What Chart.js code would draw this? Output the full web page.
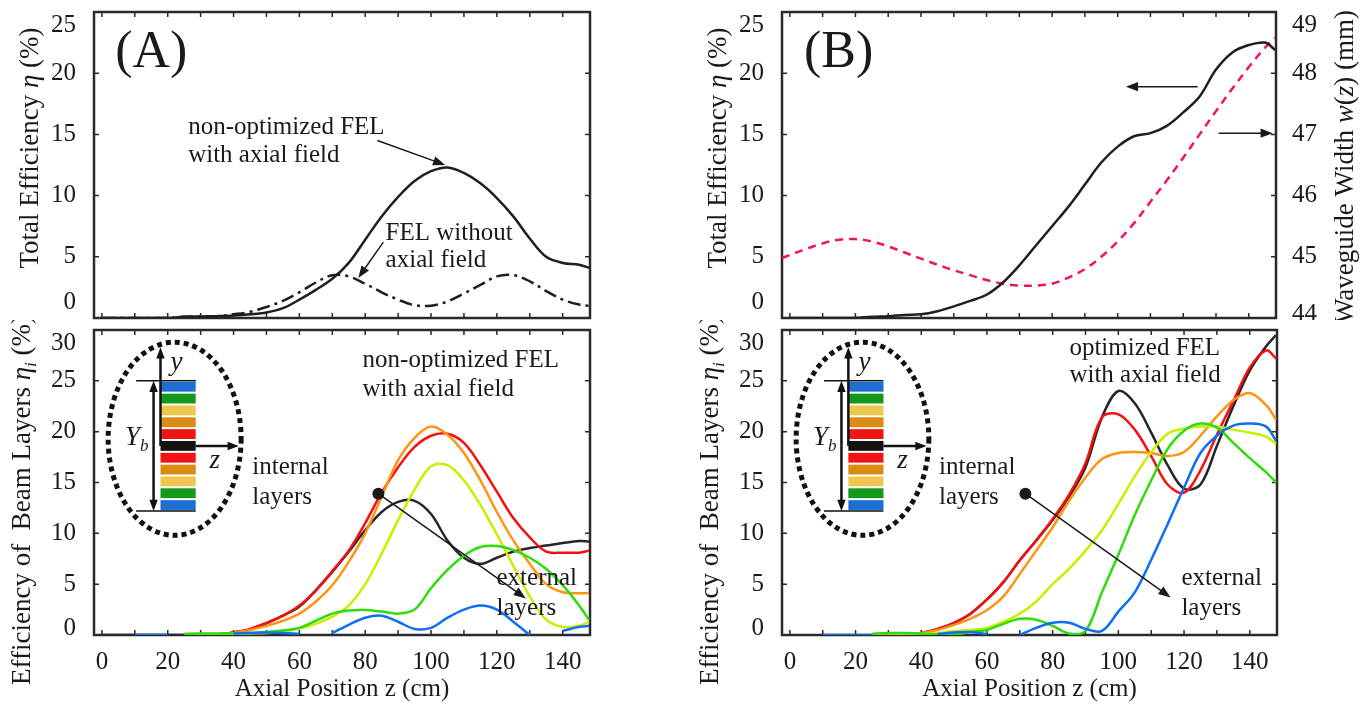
<!DOCTYPE html>
<html>
<head>
<meta charset="utf-8">
<script src="https://cdn.jsdelivr.net/npm/chart.js@4.4.1/dist/chart.umd.min.js"></script>
<style>
  body { margin: 0; background: #fff; width: 1370px; height: 706px; position: relative; overflow: hidden; }
  canvas { position: absolute; }
</style>
</head>
<body>
<canvas id="topA" width="640" height="320" style="left:0;top:0"></canvas>
<canvas id="botA" width="640" height="386" style="left:0;top:320px"></canvas>
<canvas id="topB" width="730" height="320" style="left:640px;top:0"></canvas>
<canvas id="botB" width="730" height="386" style="left:640px;top:320px"></canvas>
<script>
// axial position grid (cm)
const zA = [0, 5, 10, 15, 20, 25, 30, 35, 40, 45, 50, 55, 60, 65, 70, 75, 80, 85, 90, 95, 100, 105, 110, 115, 120, 125, 130, 135, 140, 145, 148];
const zW = [-2.4, 0, 5, 10, 15, 20, 25, 30, 35, 40, 45, 50, 55, 60, 65, 70, 75, 80, 85, 90, 95, 100, 105, 110, 115, 120, 125, 130, 135, 140, 145, 148];
const xTicks = [0, 20, 40, 60, 80, 100, 120, 140];
const xMinor = [0, 10, 20, 30, 40, 50, 60, 70, 80, 90, 100, 110, 120, 130, 140];
const etaTicks = [0, 5, 10, 15, 20, 25];
const layerTicks = [0, 5, 10, 15, 20, 25, 30];
const widthTicks = [44, 45, 46, 47, 48, 49];

// (A) total efficiency
const etaNonOpt = [0, 0, 0, 0, 0, 0.1, 0.12, 0.15, 0.2, 0.3, 0.45, 0.8, 1.5, 2.3, 3.2, 4.5, 6.4, 8.3, 9.9, 11.2, 12.0, 12.3, 11.85, 11.0, 9.8, 8.3, 6.5, 5.0, 4.5, 4.35, 4.1];
const etaNoAxial = [0, 0, 0, 0, 0, 0.1, 0.12, 0.15, 0.3, 0.5, 0.9, 1.4, 2.1, 2.9, 3.5, 3.4, 2.8, 2.1, 1.5, 1.05, 1.0, 1.35, 2.0, 2.7, 3.4, 3.5, 3.0, 2.2, 1.5, 1.1, 1.0];

// (B) total efficiency and waveguide width (mm)
const etaOpt = [0, 0, 0, 0, 0, 0.1, 0.15, 0.25, 0.3, 0.55, 0.95, 1.4, 1.9, 2.9, 4.3, 5.9, 7.5, 9.1, 10.9, 12.7, 14.0, 14.85, 15.1, 15.7, 16.8, 18.1, 20.3, 21.7, 22.3, 22.5, 21.9];
const widthW = [44.98, 45.03, 45.13, 45.22, 45.28, 45.29, 45.25, 45.17, 45.07, 44.97, 44.87, 44.78, 44.70, 44.62, 44.56, 44.53, 44.53, 44.56, 44.66, 44.80, 45.0, 45.25, 45.55, 45.9, 46.25, 46.62, 47.0, 47.38, 47.75, 48.1, 48.42, 48.58];

// (A) beam layers, centre -> edge
const aBlack = [0, 0, 0, 0, 0, 0, 0, 0.05, 0.25, 0.5, 1.15, 1.9, 2.8, 4.4, 6.2, 8.2, 10.3, 12.1, 13.1, 13.2, 11.9, 9.3, 7.6, 7.0, 7.6, 8.2, 8.55, 8.8, 9.05, 9.25, 9.2];
const aRed = [null, null, null, null, null, null, null, 0.05, 0.25, 0.6, 1.2, 1.9, 2.9, 4.4, 6.3, 8.3, 11.0, 14.0, 16.5, 18.5, 19.6, 19.8, 18.9, 16.7, 14.1, 11.5, 9.6, 8.2, 8.1, 8.1, 8.3];
const aOrange = [null, null, null, null, null, null, null, 0.05, 0.2, 0.5, 0.9, 1.4, 2.1, 3.3, 4.9, 7.2, 10.0, 13.6, 17.2, 19.4, 20.5, 19.7, 17.9, 15.2, 12.1, 9.3, 7.0, 5.0, 4.2, 4.1, 4.1];
const aYellow = [null, null, null, null, null, 0.1, 0.1, 0.1, 0.1, 0.15, 0.2, 0.3, 0.65, 1.1, 1.8, 2.9, 5.0, 8.0, 11.3, 14.3, 16.6, 16.7, 15.2, 12.8, 9.9, 6.8, 3.8, 1.5, 0.8, 0.9, 1.3];
const aGreen = [null, null, null, null, null, 0.1, 0.15, 0.15, 0.15, 0.2, 0.3, 0.45, 0.7, 1.4, 2.1, 2.4, 2.45, 2.3, 2.1, 2.5, 4.6, 6.4, 7.8, 8.65, 8.75, 8.35, 7.6, 6.5, 4.9, 2.9, 1.5];
const aBlue = [0, null, 0, 0, 0, null, null, null, 0.15, 0.2, 0.25, 0.2, 0.1, null, 0.2, 1.0, 1.7, 1.9, 1.3, 0.6, 0.7, 1.7, 2.5, 2.9, 2.5, 1.3, 0, null, 0.4, 0.8, 0.9];

// (B) beam layers
const bBlack = [null, null, null, null, null, null, 0, 0.05, 0.2, 0.6, 1.2, 2.1, 3.5, 5.2, 7.35, 9.3, 11.3, 13.6, 16.5, 21.4, 24.0, 22.8, 19.9, 16.7, 14.4, 14.8, 18.6, 22.5, 26.0, 28.4, 29.5];
const bRed = [null, null, null, null, null, null, 0, 0.05, 0.2, 0.6, 1.2, 2.1, 3.5, 5.2, 7.35, 9.3, 11.4, 13.8, 16.9, 21.4, 21.7, 20.2, 17.6, 14.8, 14.0, 16.2, 19.7, 23.0, 26.3, 28.0, 27.2];
const bOrange = [null, null, null, null, null, null, 0.05, 0.1, 0.2, 0.5, 1.0, 1.6, 2.45, 3.8, 6.0, 8.3, 10.6, 13.2, 15.5, 17.3, 17.9, 18.0, 17.9, 17.6, 18.0, 19.6, 21.5, 23.1, 23.8, 22.6, 21.2];
const bYellow = [null, null, null, null, null, 0.1, 0.15, 0.15, 0.15, 0.2, 0.4, 0.5, 0.7, 1.3, 2.1, 3.3, 5.0, 6.5, 8.3, 10.3, 12.9, 15.6, 18.0, 19.8, 20.3, 20.5, 20.5, 20.2, 19.9, 19.5, 18.8];
const bGreen = [null, null, null, null, null, 0.1, 0.2, 0.2, 0.15, 0.05, 0, 0.3, 0.5, 1.1, 1.6, 1.5, 0.9, 0.15, 0.4, 4.2, 7.9, 11.8, 15.2, 18.3, 20.1, 20.8, 20.4, 18.9, 17.4, 16.0, 15.0];
const bBlue = [0, null, 0, 0, 0, 0, null, null, null, 0.1, 0.25, 0.3, 0.1, null, 0, 0.7, 1.2, 1.2, 0.6, 0.4, 2.3, 4.2, 7.4, 10.9, 14.5, 17.9, 19.6, 20.6, 20.8, 20.5, 19.1];

const layerColors = ['#1e6fd2', '#149a1a', '#eec84e', '#d98b12', '#f01414', '#111111', '#f01414', '#d98b12', '#eec84e', '#149a1a', '#1e6fd2'];

const SERIF = '"Liberation Serif", "Times New Roman", serif';
const INK = '#1a1a1a';
Chart.defaults.font.family = SERIF;
Chart.defaults.color = INK;

const pts = (xs, ys) => xs.map((x, i) => ({ x: x, y: ys[i] }));

function arrow(ctx, x1, y1, x2, y2, head, lw) {
  const a = Math.atan2(y2 - y1, x2 - x1);
  ctx.lineWidth = lw;
  ctx.beginPath();
  ctx.moveTo(x1, y1);
  ctx.lineTo(x2 - Math.cos(a) * head * 0.7, y2 - Math.sin(a) * head * 0.7);
  ctx.stroke();
  ctx.beginPath();
  ctx.moveTo(x2, y2);
  ctx.lineTo(x2 - head * Math.cos(a - 0.36), y2 - head * Math.sin(a - 0.36));
  ctx.lineTo(x2 - head * Math.cos(a + 0.36), y2 - head * Math.sin(a + 0.36));
  ctx.closePath();
  ctx.fill();
}

// text with italic / subscript pieces, centred on (x, y)
function rich(ctx, parts, x, y, size, rot) {
  const fontFor = p => (p.i ? 'italic ' : '') + (p.sub ? Math.round(size * 0.62) : size) + 'px ' + SERIF;
  ctx.save();
  ctx.translate(x, y);
  ctx.rotate(rot);
  ctx.textBaseline = 'middle';
  ctx.textAlign = 'left';
  let w = 0;
  parts.forEach(p => { ctx.font = fontFor(p); w += ctx.measureText(p.t).width; });
  let cx = -w / 2;
  parts.forEach(p => {
    ctx.font = fontFor(p);
    ctx.fillText(p.t, cx, p.sub ? size * 0.32 : 0);
    cx += ctx.measureText(p.t).width;
  });
  ctx.restore();
}

function drawInset(ctx, xs, ys) {
  const px = v => xs.getPixelForValue(v);
  const py = v => ys.getPixelForValue(v);
  ctx.save();
  ctx.strokeStyle = '#111';
  ctx.fillStyle = '#111';
  ctx.setLineDash([5, 4]);
  ctx.lineWidth = 5;
  ctx.beginPath();
  ctx.ellipse(px(22.1), py(19.3), px(42.3) - px(22.1), py(9.8) - py(19.3), 0, 0, Math.PI * 2);
  ctx.stroke();
  ctx.setLineDash([]);

  // bracket lines for Yb
  ctx.lineWidth = 1.5;
  ctx.beginPath();
  ctx.moveTo(px(10.4), py(25)); ctx.lineTo(px(28.5), py(25));
  ctx.moveTo(px(10.4), py(12.2)); ctx.lineTo(px(28.5), py(12.2));
  ctx.stroke();

  const h = (25 - 12.2) / layerColors.length;
  layerColors.forEach((c, i) => {
    const t = py(25 - i * h), b = py(25 - (i + 1) * h);
    ctx.fillStyle = c;
    ctx.fillRect(px(17.8), t + 1, px(28.5) - px(17.8), b - t - 2);
  });

  ctx.fillStyle = '#111';
  const mid = 25 - 5.5 * h;
  arrow(ctx, px(17.8), py(mid), px(17.8), py(28.3), 12, 2.5);
  arrow(ctx, px(28.5), py(mid), px(41.6), py(mid), 12, 2.5);
  arrow(ctx, px(15.7), py(18.6), px(15.7), py(25), 12, 2.5);
  arrow(ctx, px(15.7), py(18.6), px(15.7), py(12.2), 12, 2.5);

  ctx.fillStyle = INK;
  rich(ctx, [{ t: 'y', i: true }], px(22.7), py(26.8), 27, 0);
  rich(ctx, [{ t: 'z', i: true }], px(34.3), py(17.1), 27, 0);
  rich(ctx, [{ t: 'Y', i: true }, { t: 'b', i: true, sub: true }], px(10.6), py(19.4), 27, 0);
  ctx.restore();
}

function makeDeco(cfg) {
  return {
    id: 'deco',
    beforeDatasetsDraw(chart) {
      const { ctx, chartArea: a, scales } = chart;
      ctx.save();
      ctx.strokeStyle = '#2a2a2a';
      ctx.lineWidth = 1.5;
      ctx.beginPath();
      xMinor.forEach(v => {
        const p = scales.x.getPixelForValue(v);
        ctx.moveTo(p, a.bottom); ctx.lineTo(p, a.bottom - 5);
        ctx.moveTo(p, a.top); ctx.lineTo(p, a.top + 5);
      });
      cfg.yTicks.forEach(v => {
        const p = scales.y.getPixelForValue(v);
        ctx.moveTo(a.left, p); ctx.lineTo(a.left + 5, p);
        ctx.moveTo(a.right, p); ctx.lineTo(a.right - 5, p);
      });
      ctx.stroke();
      ctx.lineWidth = 2.5;
      ctx.strokeRect(a.left, a.top, a.right - a.left, a.bottom - a.top);

      // tick labels; the end labels sit a little inside the frame, as in the source figure
      ctx.fillStyle = INK;
      ctx.font = '25px ' + SERIF;
      ctx.textBaseline = 'middle';
      ctx.textAlign = 'right';
      cfg.yTicks.forEach((v, i) => {
        let p = scales.y.getPixelForValue(v);
        if (i === 0) p += cfg.nudge[0];
        if (i === cfg.yTicks.length - 1) p += cfg.nudge[1];
        ctx.fillText(String(v), a.left - 18, p);
      });
      if (scales.y1) {
        ctx.textAlign = 'left';
        widthTicks.forEach((v, i) => {
          let p = scales.y1.getPixelForValue(v);
          if (i === 0) p -= 4;
          if (i === widthTicks.length - 1) p += 13;
          ctx.fillText(String(v), a.right + 16, p);
        });
      }
      ctx.restore();
    },
    afterDatasetsDraw(chart) {
      const { ctx, scales } = chart;
      const px = v => scales.x.getPixelForValue(v);
      const py = v => scales.y.getPixelForValue(v);
      ctx.save();
      ctx.fillStyle = INK;
      ctx.strokeStyle = INK;
      ctx.textBaseline = 'middle';
      (cfg.texts || []).forEach(t => {
        ctx.font = (t.size || 25) + 'px ' + SERIF;
        ctx.textAlign = t.align || 'left';
        ctx.fillText(t.text, px(t.x), py(t.y));
      });
      (cfg.arrows || []).forEach(r => arrow(ctx, px(r[0]), py(r[1]), px(r[2]), py(r[3]), 13, 1.5));
      (cfg.dots || []).forEach(d => {
        ctx.beginPath();
        ctx.arc(px(d[0]), py(d[1]), 6, 0, Math.PI * 2);
        ctx.fill();
      });
      if (cfg.inset) drawInset(ctx, scales.x, scales.y);
      (cfg.titles || []).forEach(t => rich(ctx, t.parts, t.x, t.y, 27, -Math.PI / 2));
      ctx.restore();
    }
  };
}

function noPad(s) {
  s.paddingTop = 0;
  s.paddingBottom = 0;
  s.paddingLeft = 0;
  s.paddingRight = 0;
}

function panelOptions(cfg) {
  const scales = {
    x: {
      type: 'linear',
      min: -2.4,
      max: 148.3,
      display: cfg.xLabels,
      grid: { display: false, drawTicks: false },
      border: { display: false },
      afterBuildTicks: s => { s.ticks = xTicks.map(v => ({ value: v })); },
      afterFit: s => { s.height = cfg.xLabels ? 71 : 0; noPad(s); },
      ticks: { font: { size: 25 }, padding: 12, maxRotation: 0, autoSkip: false, color: INK },
      title: { display: true, text: 'Axial Position z (cm)', font: { size: 25 }, padding: { top: 0, bottom: 2 }, color: INK }
    },
    y: {
      min: cfg.yTicks[0],
      max: cfg.yTicks[cfg.yTicks.length - 1],
      grid: { display: false, drawTicks: false },
      border: { display: false },
      afterBuildTicks: s => { s.ticks = cfg.yTicks.map(v => ({ value: v })); },
      afterFit: s => { s.width = cfg.yWidth; noPad(s); },
      ticks: { display: false }
    }
  };
  if (cfg.right) {
    scales.y1 = {
      position: 'right',
      min: widthTicks[0],
      max: widthTicks[widthTicks.length - 1],
      grid: { display: false, drawTicks: false },
      border: { display: false },
      afterBuildTicks: s => { s.ticks = widthTicks.map(v => ({ value: v })); },
      afterFit: s => { s.width = 94; noPad(s); },
      ticks: { display: false }
    };
  }
  return {
    responsive: false,
    animation: false,
    events: [],
    layout: { padding: cfg.padding },
    elements: { point: { radius: 0 }, line: { tension: 0.35, borderWidth: 2.5, fill: false } },
    plugins: { legend: { display: false }, tooltip: { enabled: false } },
    scales: scales
  };
}

const layerSet = (blue, green, yellow, orange, red, black) => [
  { data: pts(zA, blue), borderColor: '#0f6ff2' },
  { data: pts(zA, green), borderColor: '#2ddc0a' },
  { data: pts(zA, yellow), borderColor: '#c9ee00' },
  { data: pts(zA, orange), borderColor: '#ff9410' },
  { data: pts(zA, red), borderColor: '#f50f0f' },
  { data: pts(zA, black), borderColor: '#262626' }
];

const etaTitle = [{ t: 'Total Efficiency ' }, { t: 'η', i: true }, { t: ' (%)' }];
const layerTitle = [{ t: 'Efficiency of  Beam Layers ' }, { t: 'η', i: true }, { t: 'i', i: true, sub: true }, { t: ' (%)' }];

// (A) top
const decoTopA = {
  yTicks: etaTicks,
  nudge: [-16, 13],
  titles: [{ parts: etaTitle, x: 31, y: 148 }],
  texts: [
    { text: '(A)', x: 15.0, y: 21.65, size: 52, align: 'center' },
    { text: 'non-optimized FEL', x: 26.2, y: 15.6 },
    { text: 'with axial field', x: 26.2, y: 13.3 },
    { text: 'FEL without', x: 86.2, y: 6.94 },
    { text: 'axial field', x: 86.2, y: 4.74 }
  ],
  arrows: [[83.7, 14.5, 104.3, 12.5], [85.5, 6.2, 77.9, 3.27]]
};
new Chart(document.getElementById('topA'), {
  type: 'line',
  data: {
    datasets: [
      { data: pts(zA, etaNonOpt), borderColor: '#1f1f1f' },
      { data: pts(zA, etaNoAxial), borderColor: '#1f1f1f', borderDash: [13, 5, 3, 5] }
    ]
  },
  options: panelOptions({ yTicks: etaTicks, yWidth: 94, xLabels: false, padding: { top: 12, right: 50, bottom: 2, left: 0 } }),
  plugins: [makeDeco(decoTopA)]
});

// (A) bottom
const decoBotA = {
  yTicks: layerTicks,
  nudge: [-7, 13],
  inset: true,
  titles: [{ parts: layerTitle, x: 23, y: 180 }],
  texts: [
    { text: 'non-optimized FEL', x: 79.2, y: 27.0 },
    { text: 'with axial field', x: 79.2, y: 24.2 },
    { text: 'internal', x: 45.7, y: 16.5 },
    { text: 'layers', x: 45.7, y: 13.5 },
    { text: 'external', x: 119.9, y: 5.6 },
    { text: 'layers', x: 119.9, y: 2.65 }
  ],
  dots: [[84.0, 13.9]],
  arrows: [[84.0, 13.9, 128.8, 3.6]]
};
new Chart(document.getElementById('botA'), {
  type: 'line',
  data: { datasets: layerSet(aBlue, aGreen, aYellow, aOrange, aRed, aBlack) },
  options: panelOptions({ yTicks: layerTicks, yWidth: 94, xLabels: true, padding: { top: 10, right: 50, bottom: 0, left: 0 } }),
  plugins: [makeDeco(decoBotA)]
});

// (B) top
const decoTopB = {
  yTicks: etaTicks,
  nudge: [-16, 13],
  titles: [
    { parts: etaTitle, x: 79, y: 148 },
    { parts: [{ t: 'Waveguide Width ' }, { t: 'w', i: true }, { t: '(' }, { t: 'z', i: true }, { t: ') (mm)' }], x: 706, y: 167 }
  ],
  texts: [{ text: '(B)', x: 14.9, y: 21.65, size: 52, align: 'center' }],
  arrows: [[124.4, 18.9, 102.5, 18.9], [130.8, 15.1, 147.3, 15.1]]
};
new Chart(document.getElementById('topB'), {
  type: 'line',
  data: {
    datasets: [
      { data: pts(zA, etaOpt), borderColor: '#1f1f1f' },
      { data: pts(zW, widthW), borderColor: '#f0145a', borderDash: [8, 6], yAxisID: 'y1' }
    ]
  },
  options: panelOptions({ yTicks: etaTicks, yWidth: 142, xLabels: false, right: true, padding: { top: 12, right: 0, bottom: 2, left: 0 } }),
  plugins: [makeDeco(decoTopB)]
});

// (B) bottom
const decoBotB = {
  yTicks: layerTicks,
  nudge: [-7, 13],
  inset: true,
  titles: [{ parts: layerTitle, x: 71, y: 180 }],
  texts: [
    { text: 'optimized FEL', x: 85.1, y: 28.2 },
    { text: 'with axial field', x: 85.1, y: 25.5 },
    { text: 'internal', x: 45.4, y: 16.5 },
    { text: 'layers', x: 45.4, y: 13.5 },
    { text: 'external', x: 119.2, y: 5.6 },
    { text: 'layers', x: 119.2, y: 2.65 }
  ],
  dots: [[71.7, 13.9]],
  arrows: [[71.7, 13.9, 115.9, 3.7]]
};
new Chart(document.getElementById('botB'), {
  type: 'line',
  data: { datasets: layerSet(bBlue, bGreen, bYellow, bOrange, bRed, bBlack) },
  options: panelOptions({ yTicks: layerTicks, yWidth: 142, xLabels: true, padding: { top: 10, right: 93, bottom: 0, left: 0 } }),
  plugins: [makeDeco(decoBotB)]
});
</script>
</body>
</html>
